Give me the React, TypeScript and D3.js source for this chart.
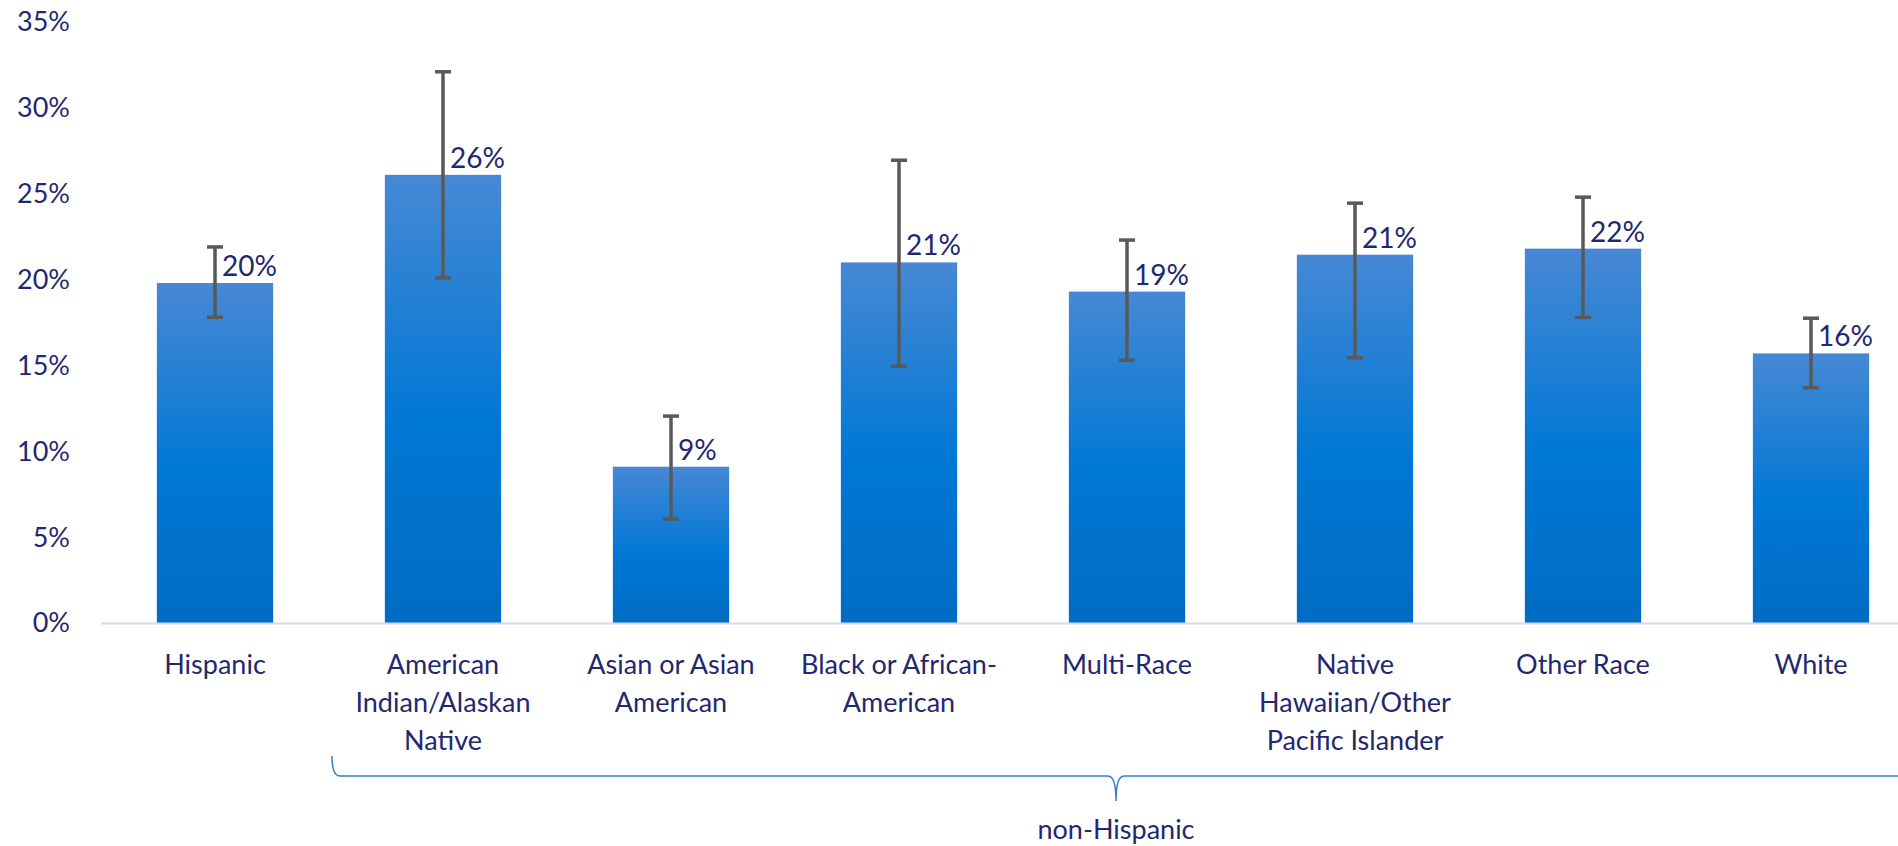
import * as d3 from "d3";

const categories = [
  "Hispanic",
  "American Indian/Alaskan Native",
  "Asian or Asian American",
  "Black or African-American",
  "Multi-Race",
  "Native Hawaiian/Other Pacific Islander",
  "Other Race",
  "White",
];

// wrapped tick labels as they appear under the axis
const categoryLines = [
  ["Hispanic"],
  ["American", "Indian/Alaskan", "Native"],
  ["Asian or Asian", "American"],
  ["Black or African-", "American"],
  ["Multi-Race"],
  ["Native", "Hawaiian/Other", "Pacific Islander"],
  ["Other Race"],
  ["White"],
];

const values = [19.8, 26.1, 9.1, 21.0, 19.3, 21.45, 21.8, 15.7];
const errLow = [17.8, 20.1, 6.05, 14.95, 15.3, 15.45, 17.8, 13.7];
const errHigh = [21.9, 32.1, 12.05, 26.95, 22.3, 24.45, 24.8, 17.75];

const yTicks = [0, 5, 10, 15, 20, 25, 30, 35];
const groupLabel = "non-Hispanic";

const W = 1898;
const H = 846;
const font = "Lato, 'Open Sans', sans-serif";
const textColor = "#1f2870";

export default function App() {
  const x = d3
    .scaleBand<string>()
    .domain(categories)
    .range([101, 101 + 228 * categories.length])
    .paddingInner(0.49)
    .paddingOuter(0.245);

  const y = d3.scaleLinear().domain([0, 35]).range([623, 22]);

  const bw = x.bandwidth();
  const cx = (c: string) => (x(c) ?? 0) + bw / 2;

  // bracket under the non-Hispanic categories
  const bLeft = 332;
  const bMid = 1116;
  const bRight = 1900;
  const bTop = 756;
  const bLine = 776;
  const bTip = 801;
  const bracket = d3.path();
  bracket.moveTo(bLeft, bTop);
  bracket.quadraticCurveTo(bLeft, bLine, bLeft + 8, bLine);
  bracket.lineTo(bMid - 8, bLine);
  bracket.quadraticCurveTo(bMid, bLine, bMid, bTip);
  bracket.quadraticCurveTo(bMid, bLine, bMid + 8, bLine);
  bracket.lineTo(bRight, bLine);

  return (
    <svg
      width={W}
      height={H}
      style={{ position: "absolute", left: 0, top: 0, background: "#fff" }}
      fontFamily={font}
    >
      <defs>
        <linearGradient id="barGrad" x1="0" y1="0" x2="0" y2="1">
          <stop offset="0%" stopColor="#4788d5" />
          <stop offset="55%" stopColor="#0078d4" />
          <stop offset="100%" stopColor="#006cc3" />
        </linearGradient>
      </defs>

      {/* y tick labels */}
      {yTicks.map((t) => (
        <text
          key={t}
          x={70}
          y={y(t)}
          dy="0.35em"
          textAnchor="end"
          fontSize={27}
          fill={textColor}
        >
          {t}%
        </text>
      ))}

      {/* bars */}
      {categories.map((c, i) => (
        <rect
          key={c}
          x={x(c)}
          y={y(values[i])}
          width={bw}
          height={y(0) - y(values[i])}
          fill="url(#barGrad)"
        />
      ))}

      {/* x axis line */}
      <line x1={101} x2={W} y1={623.5} y2={623.5} stroke="#d3d7ef" strokeWidth={2} />

      {/* error bars */}
      {categories.map((c, i) => (
        <g key={c} stroke="#595959" strokeWidth={3.5}>
          <line x1={cx(c)} x2={cx(c)} y1={y(errHigh[i])} y2={y(errLow[i])} />
          <line x1={cx(c) - 8} x2={cx(c) + 8} y1={y(errHigh[i])} y2={y(errHigh[i])} />
          <line x1={cx(c) - 8} x2={cx(c) + 8} y1={y(errLow[i])} y2={y(errLow[i])} />
        </g>
      ))}

      {/* data labels */}
      {categories.map((c, i) => (
        <text
          key={c}
          x={cx(c) + 7}
          y={y(values[i]) - 7}
          fontSize={28}
          fill={textColor}
        >
          {Math.round(values[i])}%
        </text>
      ))}

      {/* category labels */}
      {categories.map((c, i) => (
        <text key={c} textAnchor="middle" fontSize={27} fill={textColor}>
          {categoryLines[i].map((ln, j) => (
            <tspan key={j} x={cx(c)} y={665 + j * 38} dy="0.35em">
              {ln}
            </tspan>
          ))}
        </text>
      ))}

      {/* group bracket */}
      <path d={bracket.toString()} fill="none" stroke="#2f80d2" strokeWidth={1.5} />
      <text x={bMid} y={830} dy="0.35em" textAnchor="middle" fontSize={27} fill={textColor}>
        {groupLabel}
      </text>
    </svg>
  );
}
